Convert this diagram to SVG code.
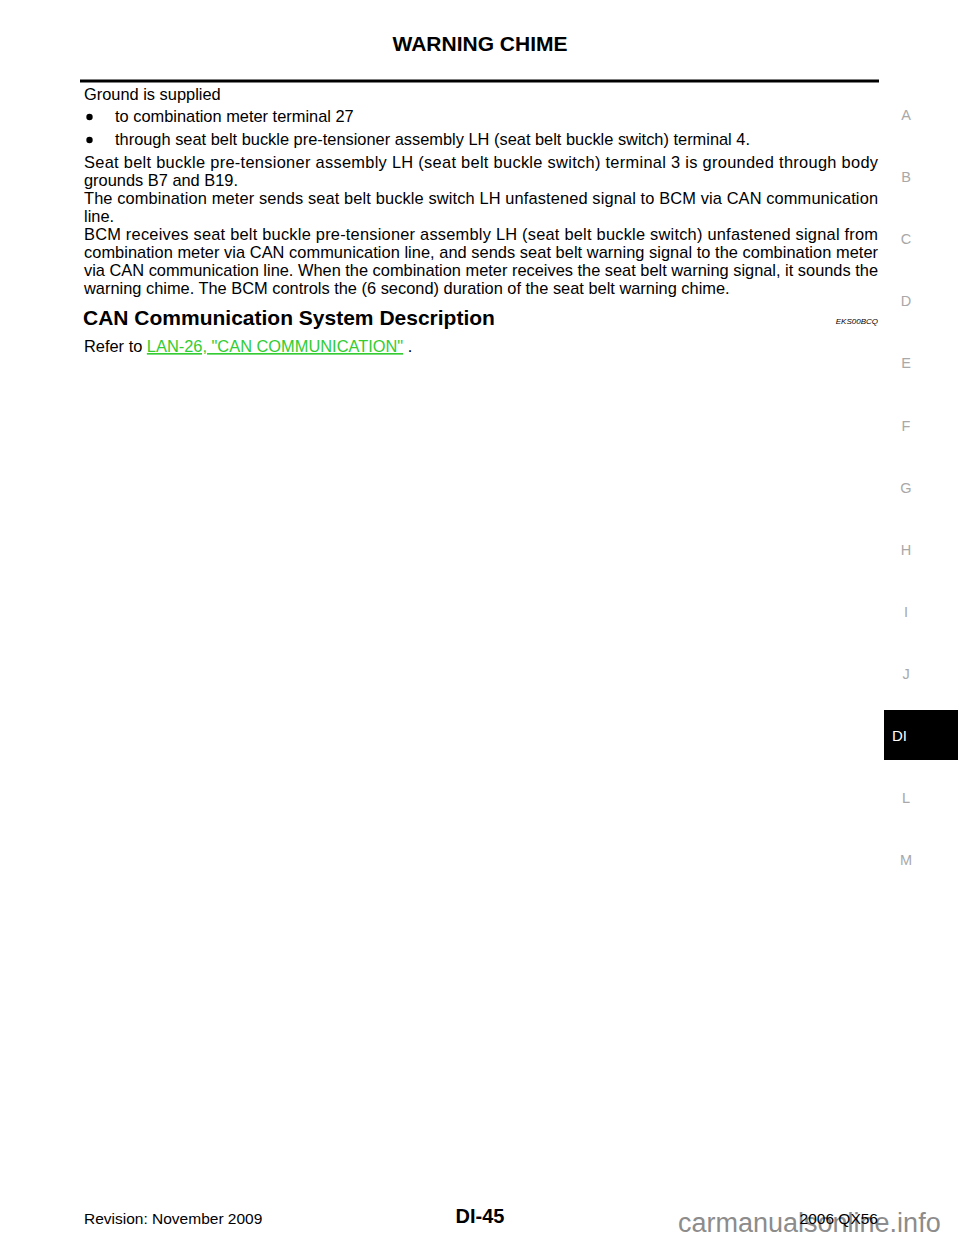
<svg xmlns="http://www.w3.org/2000/svg" width="960" height="1242" viewBox="0 0 960 1242">
<style>
text{font-family:"Liberation Sans",Arial,sans-serif;fill:#000}
.b{font-size:16.4px}
.h{font-size:21px;font-weight:bold}
.tab{font-size:14.5px;fill:#a8a8a8}
.f{font-size:15.5px}
</style>
<rect width="960" height="1242" fill="#fff"/>
<g id="header">
<text x="480" y="51" class="h" text-anchor="middle">WARNING CHIME</text>
<rect x="80" y="79.5" width="799" height="3" fill="#000"/>
</g>
<g id="body">
<text x="84" y="100" class="b">Ground is supplied</text>
<circle cx="89.5" cy="117" r="3.2" fill="#000"/>
<text x="115" y="122" class="b">to combination meter terminal 27</text>
<circle cx="89.5" cy="140" r="3.2" fill="#000"/>
<text x="115" y="145" class="b">through seat belt buckle pre-tensioner assembly LH (seat belt buckle switch) terminal 4.</text>
<text x="84" y="168" class="b" textLength="794" lengthAdjust="spacing">Seat belt buckle pre-tensioner assembly LH (seat belt buckle switch) terminal 3 is grounded through body</text>
<text x="84" y="186" class="b">grounds B7 and B19.</text>
<text x="84" y="204" class="b" textLength="794" lengthAdjust="spacing">The combination meter sends seat belt buckle switch LH unfastened signal to BCM via CAN communication</text>
<text x="84" y="222" class="b">line.</text>
<text x="84" y="240" class="b" textLength="794" lengthAdjust="spacing">BCM receives seat belt buckle pre-tensioner assembly LH (seat belt buckle switch) unfastened signal from</text>
<text x="84" y="258" class="b" textLength="794" lengthAdjust="spacing">combination meter via CAN communication line, and sends seat belt warning signal to the combination meter</text>
<text x="84" y="276" class="b" textLength="794" lengthAdjust="spacing">via CAN communication line. When the combination meter receives the seat belt warning signal, it sounds the</text>
<text x="84" y="294" class="b">warning chime. The BCM controls the (6 second) duration of the seat belt warning chime.</text>
<text x="83" y="325" class="h">CAN Communication System Description</text>
<text x="878" y="324" font-size="8" font-style="italic" text-anchor="end">EKS00BCQ</text>
<text x="84" y="352" class="b">Refer to <tspan fill="#33cc33" style="fill:#33cc33" text-decoration="underline">LAN-26, "CAN COMMUNICATION"</tspan> .</text>
</g>
<g id="tabs">
<text x="906" y="120" class="tab" text-anchor="middle">A</text>
<text x="906" y="182" class="tab" text-anchor="middle">B</text>
<text x="906" y="244" class="tab" text-anchor="middle">C</text>
<text x="906" y="306" class="tab" text-anchor="middle">D</text>
<text x="906" y="368" class="tab" text-anchor="middle">E</text>
<text x="906" y="431" class="tab" text-anchor="middle">F</text>
<text x="906" y="493" class="tab" text-anchor="middle">G</text>
<text x="906" y="555" class="tab" text-anchor="middle">H</text>
<text x="906" y="617" class="tab" text-anchor="middle">I</text>
<text x="906" y="679" class="tab" text-anchor="middle">J</text>
<rect x="884" y="710" width="74" height="50" fill="#000"/>
<text x="892" y="741" font-size="15" style="fill:#fff">DI</text>
<text x="906" y="803" class="tab" text-anchor="middle">L</text>
<text x="906" y="865" class="tab" text-anchor="middle">M</text>
</g>
<g id="footer">
<text x="84" y="1224" class="f">Revision: November 2009</text>
<text x="480" y="1223" font-size="20" font-weight="bold" text-anchor="middle">DI-45</text>
<text x="678" y="1232" font-size="27" style="fill:#8c8c8c">carmanualsonline.info</text>
<text x="878" y="1224" class="f" text-anchor="end">2006 QX56</text>
</g>
</svg>
